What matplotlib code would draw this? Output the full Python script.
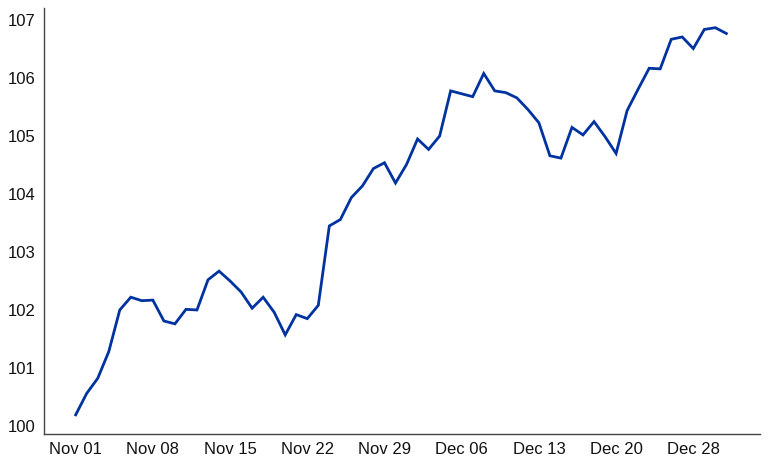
import numpy as np
import pandas as pd
import matplotlib
matplotlib.use("Agg")
import matplotlib.pyplot as plt

plt.rcParams['font.family'] = ['Liberation Sans', 'DejaVu Sans']

# trading days, Christmas day has no value
dates = pd.date_range("2023-11-01", "2023-12-31", freq="D")
dates = dates[dates != pd.Timestamp("2023-12-25")]

values = [
    100.19, 100.56, 100.82, 101.28, 102.00, 102.22, 102.16, 102.17, 101.81, 101.76,
    102.01, 102.00, 102.52, 102.67, 102.50, 102.31, 102.03, 102.22, 101.96, 101.57,
    101.92, 101.85, 102.08, 103.45, 103.56, 103.94, 104.14, 104.44, 104.54, 104.19,
    104.51, 104.95, 104.77, 105.00, 105.78, 105.73, 105.68, 106.08, 105.78, 105.75,
    105.66, 105.46, 105.23, 104.66, 104.62, 105.15, 105.02, 105.25, 104.99, 104.70,
    105.44, 105.81, 106.17, 106.16, 106.67, 106.71, 106.51, 106.84, 106.87, 106.77,
]

y_ticks = [100, 101, 102, 103, 104, 105, 106, 107]
tick_every = 7

fig = plt.figure(figsize=(7.68, 4.65), dpi=100)
ax = fig.add_axes([0.0573, 0.0667, 0.9323, 0.9161])

x = np.arange(len(values))
ax.plot(x, values, color='#0033a0', linewidth=2.0, solid_joinstyle='miter')

tick_pos = x[::tick_every]
ax.set_xticks(tick_pos)
ax.set_xticklabels([dates[i].strftime("%b %d") for i in tick_pos])
ax.set_yticks(y_ticks)
ax.set_xlim(-2.87, 62.05)
ax.set_ylim(99.86, 107.21)

ax.tick_params(length=0, labelsize=12, pad=6, colors='#111111')
for side in ['top', 'right']:
    ax.spines[side].set_visible(False)
for side in ['left', 'bottom']:
    ax.spines[side].set_color('#444444')
    ax.spines[side].set_linewidth(1.0)

fig.savefig("out.png", dpi=100)
